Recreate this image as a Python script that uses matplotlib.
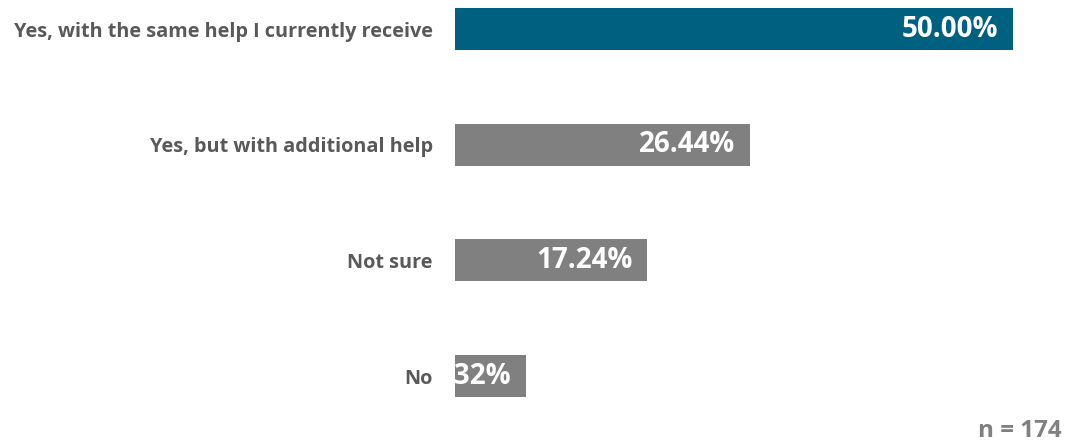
import matplotlib.pyplot as plt
from matplotlib.transforms import offset_copy

# Survey answers and shares (%)
answers = ['Yes, with the same help I currently receive',
           'Yes, but with additional help',
           'Not sure',
           'No']
shares = [50.00, 26.44, 17.24, 6.32]
bar_colors = ['#00607f', '#808080', '#808080', '#808080']
n_label = 'n = 174'

plt.rcParams['font.family'] = ['Open Sans', 'DejaVu Sans']

fig = plt.figure(figsize=(10.66, 4.43), dpi=100)
ax = fig.add_axes([455 / 1066, 32.3 / 443, 558 / 1066, 410.6 / 443])

ypos = list(range(len(answers)))
bars = ax.barh(ypos, shares, height=0.365, color=bar_colors)

ax.set_xlim(0, 50)
ax.set_ylim(3.3, -0.25)
ax.set_yticks(ypos)
ax.set_yticklabels(answers, fontsize=14.3, fontweight='bold', color='#595959')
ax.tick_params(axis='y', length=0, pad=16)
ax.set_xticks([])
for s in ax.spines.values():
    s.set_visible(False)

# value labels inside the bar end, clipped to the axes like the original
# (the small "No" bar only shows the tail of its label)
shift = offset_copy(ax.transData, fig=fig, x=-15, y=0, units='dots')
for b, v in zip(bars, shares):
    ax.text(b.get_width(), b.get_y() + b.get_height() / 2, f'{v:.2f}%',
            transform=shift, ha='right', va='center', fontsize=20,
            fontweight='bold', color='white', clip_on=True)

fig.text(1062 / 1066, 1 - 431 / 443, n_label, ha='right', va='center',
         fontsize=17.5, fontweight='bold', color='#808080')

plt.savefig('out.png', dpi=100)
